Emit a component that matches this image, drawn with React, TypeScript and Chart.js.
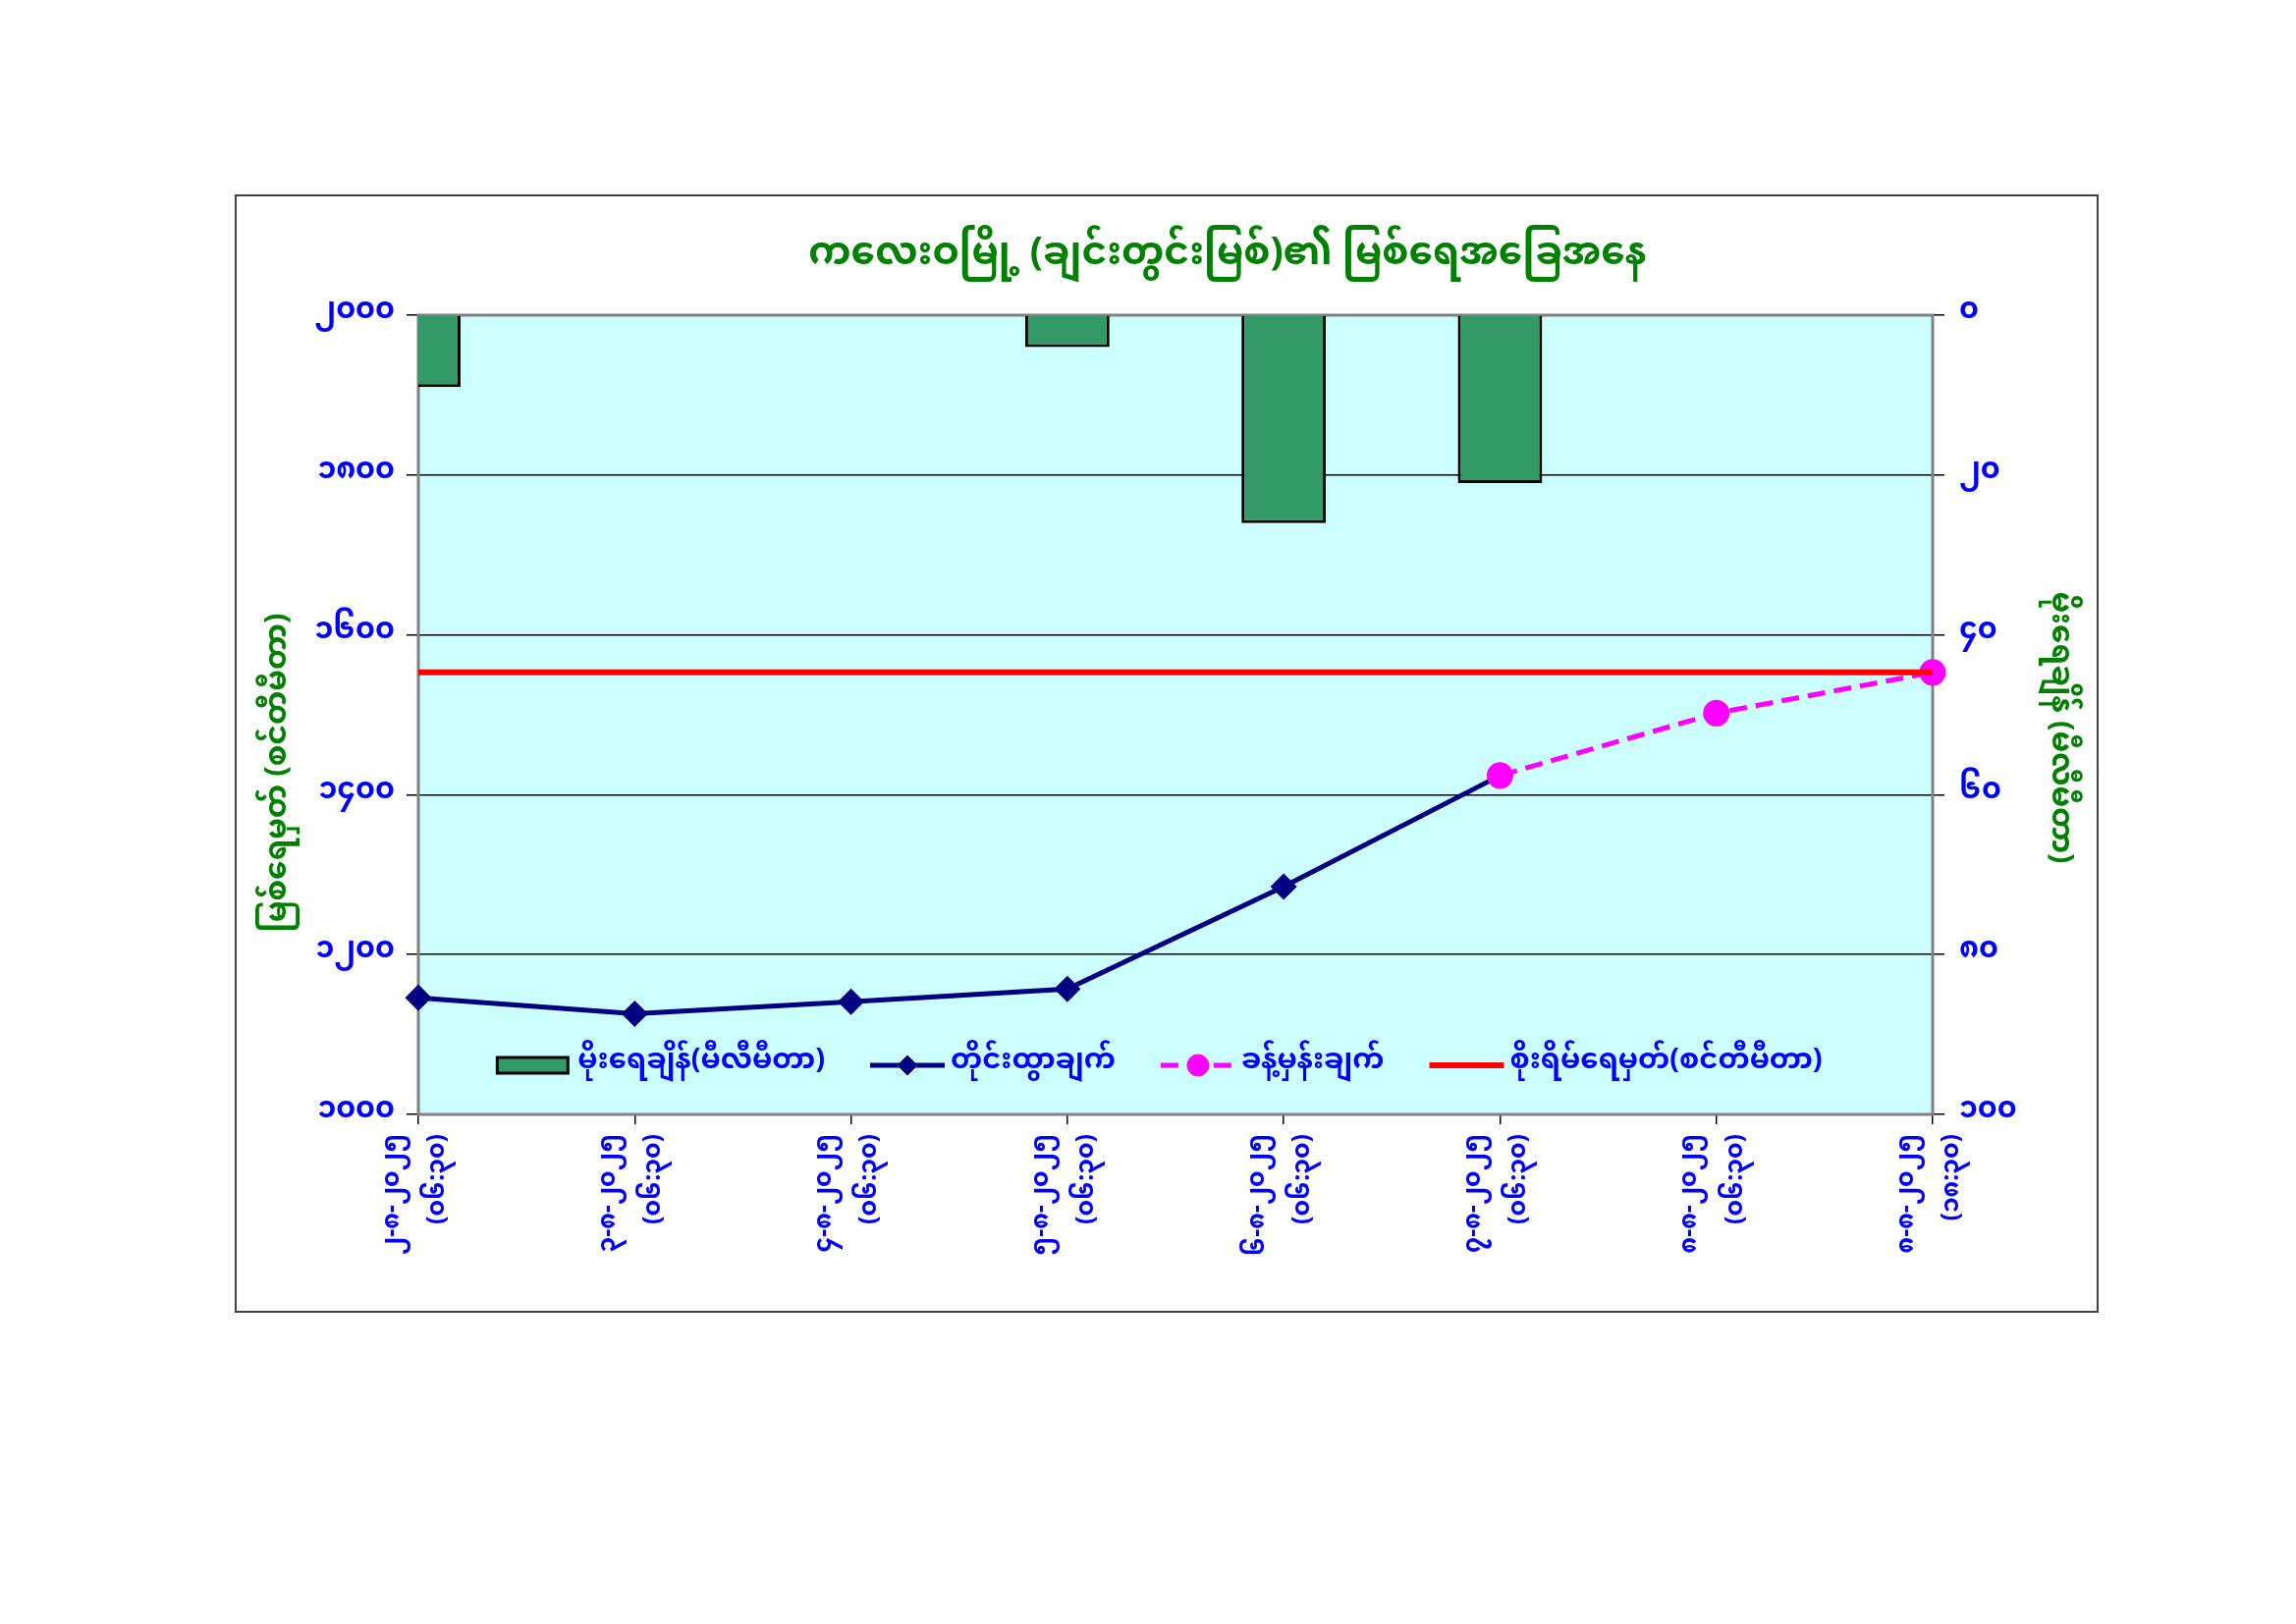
import { useEffect, useRef } from "react";
import { Chart, registerables } from "chart.js";
import type { Plugin } from "chart.js";
import { drawPoint } from "chart.js/helpers";

Chart.register(...registerables);

const MM_FONT = "'Noto Sans Myanmar', Padauk, 'Myanmar Text', 'Noto Sans', sans-serif";

const chartTitle = "ကလေးဝမြို့ (ချင်းတွင်းမြစ်)၏ မြစ်ရေအခြေအနေ";
const levelAxisTitle = "မြစ်ရေမှတ် (စင်တီမီတာ)";
const rainAxisTitle = "မိုးရေချိန် (မီလီမီတာ)";

const dates = ["၂-၈-၂၀၂၅", "၃-၈-၂၀၂၅", "၄-၈-၂၀၂၅", "၅-၈-၂၀၂၅", "၆-၈-၂၀၂၅", "၇-၈-၂၀၂၅", "၈-၈-၂၀၂၅", "၈-၈-၂၀၂၅"];
const times = ["(၀၆:၃၀)", "(၀၆:၃၀)", "(၀၆:၃၀)", "(၀၆:၃၀)", "(၀၆:၃၀)", "(၀၆:၃၀)", "(၀၆:၃၀)", "(၁၈:၃၀)"];

const seriesNames = ["မိုးရေချိန်(မီလီမီတာ)", "တိုင်းထွာချက်", "ခန့်မှန်းချက်", "စိုးရိမ်ရေမှတ်(စင်တီမီတာ)"];

// rainfall in mm (right axis, reversed)
const rainfall = [9, null, null, 4, 26, 21, null, null];
// water level in cm (left axis)
const observedLevel = [1146, 1126, 1141, 1157, 1285, 1424, null, null];
const forecastLevel = [null, null, null, null, null, 1424, 1502, 1553];
const dangerLevel = [1553, 1553, 1553, 1553, 1553, 1553, 1553, 1553];

const levelTickValues = [1000, 1200, 1400, 1600, 1800, 2000];
const levelTickLabels = ["၁၀၀၀", "၁၂၀၀", "၁၄၀၀", "၁၆၀၀", "၁၈၀၀", "၂၀၀၀"];
const rainTickValues = [0, 20, 40, 60, 80, 100];
const rainTickLabels = ["၀", "၂၀", "၄၀", "၆၀", "၈၀", "၁၀၀"];

const plotFrame: Plugin = {
    id: "plotFrame",
    beforeDraw(chart) {
        const { ctx, chartArea: a } = chart;
        ctx.save();
        ctx.fillStyle = "#CCFFFF";
        ctx.fillRect(a.left, a.top, a.right - a.left, a.bottom - a.top);
        ctx.restore();
    },
    beforeDatasetsDraw(chart) {
        const { ctx, chartArea: a } = chart;
        ctx.save();
        ctx.strokeStyle = "#808080";
        ctx.lineWidth = 3;
        ctx.strokeRect(a.left, a.top, a.right - a.left, a.bottom - a.top);
        ctx.restore();
    },
};

// chart title and the two axis titles, placed like the original sheet
const titles: Plugin = {
    id: "titles",
    afterDraw(chart) {
        const { ctx, chartArea: a } = chart;
        const midY = (a.top + a.bottom) / 2;
        ctx.save();
        ctx.textAlign = "center";
        ctx.textBaseline = "middle";
        ctx.fillStyle = "#008000";
        ctx.font = `bold 39px ${MM_FONT}`;
        ctx.fillText(chartTitle, (a.left + a.right) / 2 + 53, a.top - 56);

        ctx.font = `bold 31px ${MM_FONT}`;
        ctx.save();
        ctx.translate(a.left - 138, midY + 59);
        ctx.rotate(-Math.PI / 2);
        ctx.fillText(levelAxisTitle, 0, 0);
        ctx.restore();

        ctx.save();
        ctx.translate(a.right + 125, midY + 13);
        ctx.rotate(Math.PI / 2);
        ctx.fillText(rainAxisTitle, 0, 0);
        ctx.restore();
        ctx.restore();
    },
};

// legend sits inside the plot, near the bottom
const insideLegend: Plugin = {
    id: "insideLegend",
    afterDatasetsDraw(chart) {
        const { ctx, chartArea: a } = chart;
        const sym = 76;
        const gapText = 6;
        const gapItem = 46;
        ctx.save();
        ctx.font = `bold 29px ${MM_FONT}`;
        const items = chart.data.datasets.map((ds: any) => ({ ds, w: ctx.measureText(ds.label).width }));
        const total = items.reduce((s, it) => s + sym + gapText + it.w, 0) + gapItem * (items.length - 1);
        let x = (a.left + a.right) / 2 - total / 2 - 16;
        const y = a.bottom - 50;
        items.forEach(({ ds, w }) => {
            if (ds.type === "bar") {
                ctx.fillStyle = ds.backgroundColor;
                ctx.fillRect(x, y - 8, sym - 4, 16);
                ctx.lineWidth = 3;
                ctx.strokeStyle = ds.borderColor;
                ctx.strokeRect(x, y - 8, sym - 4, 16);
            } else {
                ctx.strokeStyle = ds.borderColor;
                ctx.lineWidth = ds.borderWidth;
                ctx.setLineDash(ds.borderDash || []);
                ctx.beginPath();
                ctx.moveTo(x, y);
                ctx.lineTo(x + sym, y);
                ctx.stroke();
                ctx.setLineDash([]);
                if (ds.pointRadius > 0) {
                    ctx.fillStyle = ds.pointBackgroundColor;
                    ctx.strokeStyle = ds.pointBorderColor;
                    ctx.lineWidth = 1;
                    drawPoint(ctx, { pointStyle: ds.pointStyle, radius: ds.pointRadius, rotation: 0, borderWidth: 1 }, x + sym / 2, y);
                }
            }
            ctx.fillStyle = "#0000FF";
            ctx.textAlign = "left";
            ctx.textBaseline = "middle";
            ctx.fillText(ds.label, x + sym + gapText, y);
            x += sym + gapText + w + gapItem;
        });
        ctx.restore();
    },
};

const App = () => {
    const canvasRef = useRef<HTMLCanvasElement>(null);

    useEffect(() => {
        if (!canvasRef.current) return;
        const tickFont = { family: MM_FONT, size: 30, weight: "bold" as const };
        const chart = new Chart(canvasRef.current, {
            type: "bar",
            data: {
                labels: dates.map((d, i) => [d, times[i]]),
                datasets: [
                    {
                        type: "bar",
                        label: seriesNames[0],
                        data: rainfall,
                        yAxisID: "yRain",
                        backgroundColor: "#339966",
                        borderColor: "#000000",
                        borderWidth: 3,
                        barPercentage: 0.39,
                        categoryPercentage: 1,
                        order: 4,
                    },
                    {
                        type: "line",
                        label: seriesNames[1],
                        data: observedLevel,
                        yAxisID: "yLevel",
                        borderColor: "#000080",
                        backgroundColor: "#000080",
                        borderWidth: 5,
                        pointStyle: "rectRot",
                        pointRadius: 10,
                        pointBackgroundColor: "#000080",
                        pointBorderColor: "#000080",
                        tension: 0,
                        order: 3,
                    },
                    {
                        type: "line",
                        label: seriesNames[2],
                        data: forecastLevel,
                        yAxisID: "yLevel",
                        borderColor: "#FF00FF",
                        backgroundColor: "#FF00FF",
                        borderWidth: 5,
                        borderDash: [18, 9],
                        pointStyle: "circle",
                        pointRadius: 11,
                        pointBackgroundColor: "#FF00FF",
                        pointBorderColor: "#FF00FF",
                        tension: 0,
                        order: 2,
                    },
                    {
                        type: "line",
                        label: seriesNames[3],
                        data: dangerLevel,
                        yAxisID: "yLevel",
                        borderColor: "#FF0000",
                        backgroundColor: "#FF0000",
                        borderWidth: 6,
                        pointRadius: 0,
                        tension: 0,
                        order: 1,
                    },
                ] as any,
            },
            options: {
                animation: false,
                responsive: true,
                maintainAspectRatio: false,
                layout: { padding: { top: 121, left: 0, right: 0, bottom: 0 } },
                plugins: {
                    legend: { display: false },
                    tooltip: { enabled: false },
                    title: { display: false },
                },
                scales: {
                    x: {
                        offset: false,
                        grid: { offset: false, drawOnChartArea: false, drawTicks: true, tickLength: 10, color: "#000000", lineWidth: 1.5 },
                        border: { display: false },
                        ticks: {
                            color: "#0000FF",
                            font: { family: MM_FONT, size: 25, weight: "bold", lineHeight: 1.85 },
                            autoSkip: false,
                            maxRotation: 90,
                            minRotation: 90,
                            padding: 10,
                            labelOffset: -23,
                        },
                        afterFit: (scale) => {
                            scale.height = 200;
                        },
                    },
                    yLevel: {
                        type: "linear",
                        position: "left",
                        min: 1000,
                        max: 2000,
                        grid: { color: "#000000", lineWidth: 1.5, tickLength: 12 },
                        border: { display: false },
                        ticks: {
                            stepSize: 200,
                            color: "#0000FF",
                            font: tickFont,
                            padding: 12,
                            callback: (v) => levelTickLabels[levelTickValues.indexOf(Number(v))],
                        },
                        afterFit: (scale) => {
                            scale.width = 185;
                        },
                    },
                    yRain: {
                        type: "linear",
                        position: "right",
                        reverse: true,
                        min: 0,
                        max: 100,
                        grid: { drawOnChartArea: false, color: "#000000", lineWidth: 1.5, tickLength: 12 },
                        border: { display: false },
                        ticks: {
                            stepSize: 20,
                            color: "#0000FF",
                            font: tickFont,
                            padding: 15,
                            callback: (v) => rainTickLabels[rainTickValues.indexOf(Number(v))],
                        },
                        afterFit: (scale) => {
                            scale.width = 167;
                        },
                    },
                },
            },
            plugins: [plotFrame, insideLegend, titles],
        });
        return () => {
            chart.destroy();
        };
    }, []);

    return (
        <div
            style={{
                position: "absolute",
                left: 239,
                top: 198,
                width: 1898,
                height: 1139,
                border: "2px solid #404040",
                boxSizing: "border-box",
                background: "#ffffff",
            }}
        >
            <div style={{ position: "relative", width: 1894, height: 1135 }}>
                <canvas ref={canvasRef}></canvas>
            </div>
        </div>
    );
};

export default App;
